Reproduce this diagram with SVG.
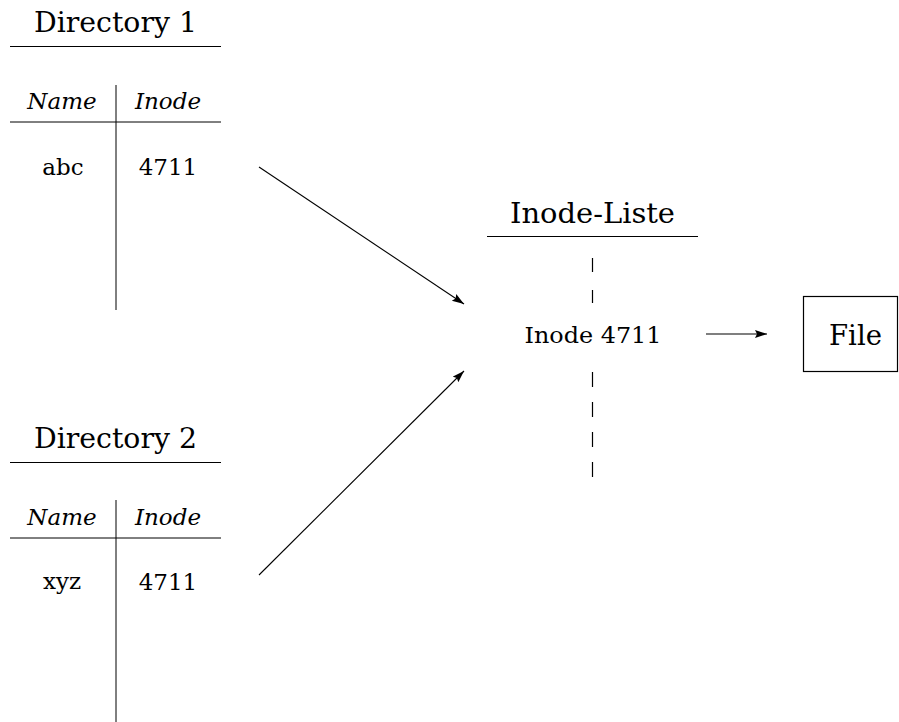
<svg xmlns="http://www.w3.org/2000/svg" width="899" height="722" viewBox="0 0 899 722">
  <style>
    .title { font-family: "DejaVu Serif", "Liberation Serif", serif; font-size: 27.5px; fill: #000; text-anchor: middle; }
    .body { font-family: "DejaVu Serif", "Liberation Serif", serif; font-size: 23px; fill: #000; text-anchor: middle; }
    .head { font-family: "DejaVu Serif", "Liberation Serif", serif; font-size: 23px; font-style: italic; fill: #000; text-anchor: middle; }
    .rule { stroke: #000; stroke-width: 1.2; fill: none; }
    .grid { stroke: #000; stroke-width: 1; fill: none; }
    .dash { stroke: #000; stroke-width: 1.2; fill: none; }
    .conn { stroke: #000; stroke-width: 1.1; fill: none; marker-end: url(#arrow); }
    .box { stroke: #000; stroke-width: 1.2; fill: #fff; }
  </style>
  <defs>
    <marker id="arrow" markerUnits="userSpaceOnUse" markerWidth="13" markerHeight="9" refX="12" refY="4" orient="auto">
      <path d="M0,0 L12,4 L0,8 L2,4 z" fill="#000"/>
    </marker>
  </defs>
  <rect x="0" y="0" width="899" height="722" fill="#fff"/>

  <g id="directory1">
    <text class="title" x="115.5" y="31.7" textLength="163" lengthAdjust="spacingAndGlyphs">Directory 1</text>
    <line class="rule" x1="10" y1="46.5" x2="221" y2="46.5"/>
    <line class="grid" x1="116" y1="85" x2="116" y2="310"/>
    <line class="grid" x1="10" y1="122" x2="221" y2="122"/>
    <text class="head" x="62" y="109">Name</text>
    <text class="head" x="168" y="109">Inode</text>
    <text class="body" x="63" y="175">abc</text>
    <text class="body" x="168" y="175">4711</text>
  </g>

  <g id="directory2">
    <text class="title" x="115.5" y="447.7" textLength="163" lengthAdjust="spacingAndGlyphs">Directory 2</text>
    <line class="rule" x1="10" y1="462.5" x2="221" y2="462.5"/>
    <line class="grid" x1="116" y1="500" x2="116" y2="722"/>
    <line class="grid" x1="10" y1="538" x2="221" y2="538"/>
    <text class="head" x="62" y="525">Name</text>
    <text class="head" x="168" y="525">Inode</text>
    <text class="body" x="62" y="589">xyz</text>
    <text class="body" x="168" y="590">4711</text>
  </g>

  <g id="inode-liste">
    <text class="title" x="592.5" y="223.3" textLength="165" lengthAdjust="spacingAndGlyphs">Inode-Liste</text>
    <line class="rule" x1="487" y1="236.5" x2="698" y2="236.5"/>
    <path class="dash" d="M592.5,258 V272 M592.5,290 V303 M592.5,372 V387 M592.5,402 V417 M592.5,432 V447 M592.5,462 V477"/>
    <text class="body" x="593" y="342.7" textLength="137" lengthAdjust="spacingAndGlyphs">Inode 4711</text>
  </g>

  <g id="file">
    <rect class="box" x="803.5" y="296.5" width="94" height="75"/>
    <text class="title" x="855.5" y="345" textLength="53" lengthAdjust="spacingAndGlyphs">File</text>
  </g>

  <g id="connectors">
    <line class="conn" x1="259" y1="167" x2="464" y2="304"/>
    <line class="conn" x1="259" y1="575" x2="464" y2="371"/>
    <line class="conn" x1="706" y1="334" x2="767" y2="334"/>
  </g>
</svg>
